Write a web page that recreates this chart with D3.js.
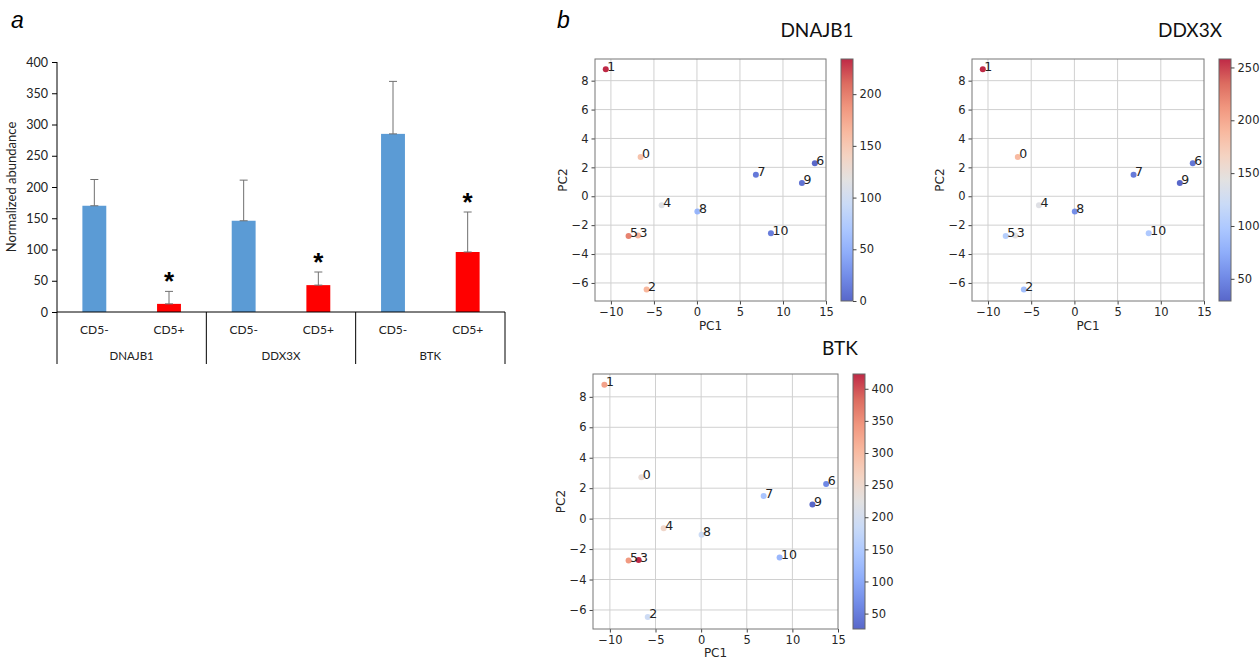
<!DOCTYPE html>
<html>
<head>
<meta charset="utf-8">
<script src="https://cdn.jsdelivr.net/npm/d3@7"></script>
<style>
  body { margin: 0; background: #fff; }
  svg { display: block; }
</style>
</head>
<body>
<svg id="fig" width="1260" height="659"></svg>
<script>
// Panel a data
const genes = ['DNAJB1', 'DDX3X', 'BTK'];
const groups = ['CD5-', 'CD5+'];
const cd5NegMean = [170, 146, 285];
const cd5NegSd = [42, 65, 84];
const cd5PosMean = [13, 43, 96];
const cd5PosSd = [20, 21, 64];
const cd5PosSignif = [true, true, true];
const yTicksA = [0, 50, 100, 150, 200, 250, 300, 350, 400];

// Panel b data
const sampleIds = [0, 1, 2, 3, 4, 5, 6, 7, 8, 9, 10];
const pc1 = [-6.55, -10.6, -5.85, -6.85, -4.1, -7.95, 13.7, 6.85, 0.05, 12.2, 8.6];
const pc2 = [2.72, 8.79, -6.46, -2.72, -0.63, -2.75, 2.28, 1.48, -1.06, 0.92, -2.56];
const dnajb1Expr = [155, 234, 165, 168, 112, 198, 0, 12, 55, 8, 14];
const ddx3xExpr = [188, 258, 88, 145, 140, 105, 38, 42, 55, 29, 100];
const btkExpr = [240, 330, 190, 423, 255, 340, 62, 140, 188, 26, 120];
const pcXTicks = [-10, -5, 0, 5, 10, 15];
const pcYTicks = [-6, -4, -2, 0, 2, 4, 6, 8];
const dnajb1CbTicks = [0, 50, 100, 150, 200];
const ddx3xCbTicks = [50, 100, 150, 200, 250];
const btkCbTicks = [50, 100, 150, 200, 250, 300, 350, 400];

const svg = d3.select('#fig');

// ---------- panel a ----------
const fontA = 'Lato, "Liberation Sans", sans-serif';
svg.append('text').attr('x', 11).attr('y', 28)
    .style('font', 'italic 23px "Liberation Sans", sans-serif').text('a');

const ay = d3.scaleLinear().domain([0, 400]).range([312, 62]);
const ax = d3.scaleBand().domain(genes).range([57, 505]).padding(0);
const axIn = d3.scaleBand().domain(groups).range([0, ax.bandwidth()])
    .paddingInner(0.68).paddingOuter(0.34);

const gA = svg.append('g');

gA.append('g')
    .attr('transform', 'translate(57,0)')
    .call(d3.axisLeft(ay).tickValues(yTicksA).tickSize(5).tickSizeOuter(0))
    .call(g => g.select('.domain').remove())
    .call(g => g.selectAll('line').attr('stroke', '#000'))
    .call(g => g.selectAll('text').attr('fill', '#222')
        .style('font', '12.5px ' + fontA).attr('x', -9));

gA.append('text')
    .attr('transform', 'translate(16,187) rotate(-90)')
    .attr('text-anchor', 'middle')
    .style('font', '13px ' + fontA).attr('fill', '#222')
    .text('Normalized abundance');

const barRows = [];
genes.forEach((g, i) => {
    barRows.push({ gene: g, grp: 'CD5-', mean: cd5NegMean[i], sd: cd5NegSd[i], sig: false, color: '#5b9bd5' });
    barRows.push({ gene: g, grp: 'CD5+', mean: cd5PosMean[i], sd: cd5PosSd[i], sig: cd5PosSignif[i], color: '#ff0000' });
});
const bx = d => ax(d.gene) + axIn(d.grp);
const bcx = d => bx(d) + axIn.bandwidth() / 2;

gA.selectAll('rect.bar').data(barRows).enter().append('rect')
    .attr('class', 'bar')
    .attr('x', bx).attr('width', axIn.bandwidth())
    .attr('y', d => ay(d.mean)).attr('height', d => ay(0) - ay(d.mean))
    .attr('fill', d => d.color);

const err = gA.selectAll('g.err').data(barRows).enter().append('g').attr('class', 'err')
    .attr('stroke', '#707070').attr('stroke-width', 1);
err.append('line')
    .attr('x1', bcx).attr('x2', bcx)
    .attr('y1', d => ay(d.mean)).attr('y2', d => ay(d.mean + d.sd));
err.append('line')
    .attr('x1', d => bcx(d) - 4).attr('x2', d => bcx(d) + 4)
    .attr('y1', d => ay(d.mean + d.sd)).attr('y2', d => ay(d.mean + d.sd));
err.append('line')
    .attr('x1', d => bcx(d) - 4).attr('x2', d => bcx(d) + 4)
    .attr('y1', d => ay(d.mean)).attr('y2', d => ay(d.mean));

gA.selectAll('text.star').data(barRows.filter(d => d.sig)).enter().append('text')
    .attr('class', 'star')
    .attr('x', bcx).attr('y', d => ay(d.mean + d.sd) - 1)
    .attr('text-anchor', 'middle')
    .style('font', 'bold 26px "Liberation Sans", sans-serif')
    .text('*');

// baseline and group dividers
gA.append('line').attr('x1', 57).attr('x2', 505).attr('y1', 312).attr('y2', 312).attr('stroke', '#000');
gA.append('line').attr('x1', 57).attr('x2', 57).attr('y1', 62).attr('y2', 312).attr('stroke', '#000');
const dividers = genes.map(g => ax(g)).concat([ax.range()[1]]);
gA.selectAll('line.div').data(dividers).enter().append('line')
    .attr('class', 'div')
    .attr('x1', d => d).attr('x2', d => d).attr('y1', 312).attr('y2', 364)
    .attr('stroke', '#000');

gA.selectAll('text.cat').data(barRows).enter().append('text')
    .attr('class', 'cat')
    .attr('x', bcx).attr('y', 334)
    .attr('text-anchor', 'middle')
    .style('font', '12px ' + fontA).attr('fill', '#222')
    .text(d => d.grp);

gA.selectAll('text.gene').data(genes).enter().append('text')
    .attr('class', 'gene')
    .attr('x', d => ax(d) + ax.bandwidth() / 2).attr('y', 360)
    .attr('text-anchor', 'middle')
    .style('font', '11.5px ' + fontA).attr('fill', '#222')
    .text(d => d);

// ---------- panel b ----------
svg.append('text').attr('x', 557).attr('y', 28)
    .style('font', 'italic 23px "Liberation Sans", sans-serif').text('b');

const coolwarm = d3.piecewise(d3.interpolateRgb, [
    '#3b4cc0', '#5977e3', '#7b9ff9', '#9ebeff', '#c0d4f5', '#dddcdc',
    '#f2cbb7', '#f7ac8e', '#ee8468', '#d65244', '#b40426']);

const fontB = '"DejaVu Sans", sans-serif';
const panels = [
    { name: 'DNAJB1', expr: dnajb1Expr, cbTicks: dnajb1CbTicks, left: 595, top: 59, w: 231, h: 242, cbx: 841, titleX: 817, titleY: 37, pc1Y: 330 },
    { name: 'DDX3X', expr: ddx3xExpr, cbTicks: ddx3xCbTicks, left: 972, top: 59, w: 232, h: 242, cbx: 1219, titleX: 1190, titleY: 37, pc1Y: 330 },
    { name: 'BTK', expr: btkExpr, cbTicks: btkCbTicks, left: 593, top: 374, w: 245, h: 255, cbx: 853, titleX: 840, titleY: 355, pc1Y: 657 }
];

const defs = svg.append('defs');

panels.forEach((p, pi) => {
    const g = svg.append('g');
    const x = d3.scaleLinear().domain([-11.85, 15.0]).range([p.left, p.left + p.w]);
    const y = d3.scaleLinear().domain([-7.25, 9.5]).range([p.top + p.h, p.top]);
    const ext = d3.extent(p.expr);
    const color = d3.scaleSequential(coolwarm).domain(ext);

    g.append('text').attr('x', p.titleX).attr('y', p.titleY)
        .attr('text-anchor', 'middle')
        .style('font', '19px ' + fontA).attr('fill', '#111')
        .text(p.name);

    // grid
    g.selectAll('line.gx').data(pcXTicks.filter(t => x(t) < p.left + p.w - 1)).enter().append('line')
        .attr('x1', d => x(d)).attr('x2', d => x(d)).attr('y1', p.top).attr('y2', p.top + p.h)
        .attr('stroke', '#d0d0d0');
    g.selectAll('line.gy').data(pcYTicks).enter().append('line')
        .attr('y1', d => y(d)).attr('y2', d => y(d)).attr('x1', p.left).attr('x2', p.left + p.w)
        .attr('stroke', '#d0d0d0');

    // axes
    g.append('g').attr('transform', `translate(0,${p.top + p.h})`)
        .call(d3.axisBottom(x).tickValues(pcXTicks).tickSize(3.5).tickSizeOuter(0))
        .call(s => s.select('.domain').remove())
        .call(s => s.selectAll('line').attr('stroke', '#444'))
        .call(s => s.selectAll('text').attr('fill', '#262626').style('font', '11.5px ' + fontB));
    g.append('g').attr('transform', `translate(${p.left},0)`)
        .call(d3.axisLeft(y).tickValues(pcYTicks).tickSize(3.5).tickSizeOuter(0))
        .call(s => s.select('.domain').remove())
        .call(s => s.selectAll('line').attr('stroke', '#444'))
        .call(s => s.selectAll('text').attr('fill', '#262626').style('font', '11.5px ' + fontB));

    g.append('rect').attr('x', p.left).attr('y', p.top).attr('width', p.w).attr('height', p.h)
        .attr('fill', 'none').attr('stroke', '#777').attr('stroke-width', 1);

    g.append('text').attr('x', p.left + p.w / 2).attr('y', p.pc1Y)
        .attr('text-anchor', 'middle').style('font', '12px ' + fontB).attr('fill', '#262626')
        .text('PC1');
    g.append('text')
        .attr('transform', `translate(${p.left - 28},${p.top + p.h / 2}) rotate(-90)`)
        .attr('text-anchor', 'middle').style('font', '12px ' + fontB).attr('fill', '#262626')
        .text('PC2');

    // points
    const pts = sampleIds.map((id, i) => ({ id, x: pc1[i], y: pc2[i], v: p.expr[i] }));
    g.selectAll('circle').data(pts).enter().append('circle')
        .attr('cx', d => x(d.x)).attr('cy', d => y(d.y)).attr('r', 3)
        .attr('fill', d => color(d.v)).attr('fill-opacity', 0.85);
    g.selectAll('text.lab').data(pts).enter().append('text')
        .attr('class', 'lab')
        .attr('x', d => x(d.x) + 1.5).attr('y', d => y(d.y) + 1.5)
        .style('font', '12.5px ' + fontB).attr('fill', '#222')
        .text(d => d.id);

    // colorbar
    const gradId = 'cw' + pi;
    const grad = defs.append('linearGradient').attr('id', gradId)
        .attr('x1', 0).attr('x2', 0).attr('y1', 1).attr('y2', 0);
    d3.range(0, 1.0001, 0.05).forEach(t => {
        grad.append('stop').attr('offset', t).attr('stop-color', coolwarm(t));
    });
    const cb = d3.scaleLinear().domain(ext).range([p.top + p.h, p.top]);
    g.append('rect').attr('x', p.cbx).attr('y', p.top).attr('width', 12).attr('height', p.h)
        .attr('fill', `url(#${gradId})`).attr('fill-opacity', 0.85)
        .attr('stroke', '#666').attr('stroke-width', 1);
    g.append('g').attr('transform', `translate(${p.cbx + 12},0)`)
        .call(d3.axisRight(cb).tickValues(p.cbTicks).tickSize(3.5).tickSizeOuter(0))
        .call(s => s.select('.domain').remove())
        .call(s => s.selectAll('line').attr('stroke', '#444'))
        .call(s => s.selectAll('text').attr('fill', '#262626').style('font', '11.5px ' + fontB));
});
</script>
</body>
</html>
